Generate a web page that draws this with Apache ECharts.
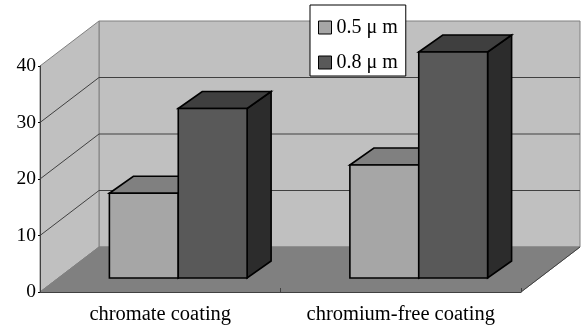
<!DOCTYPE html>
<html>
<head>
<meta charset="utf-8">
<script src="https://cdn.jsdelivr.net/npm/echarts@6/dist/echarts.min.js"></script>
<style>html,body{margin:0;padding:0;background:#fff;}#c{width:581px;height:329px;}</style>
</head>
<body>
<div id="c"></div>
<script>
const categories = ['chromate coating', 'chromium-free coating'];
const seriesNames = ['0.5 μ m', '0.8 μ m'];
const values05 = [15, 20];
const values08 = [30, 40];
const yTicks = [0, 10, 20, 30, 40];

const FONT = 'Liberation Serif';
const WALL_DX = 59, WALL_DY = -45;
const BAR_FRONT_DX = 18, BAR_FRONT_DY = -14;
const BAR_DX = 24, BAR_DY = -17;
const BAR_W_FRAC = 69 / 241;
const yMax = yTicks[yTicks.length - 1];

function frame(api) {
  const band = api.size([1, 0])[0];
  const c0 = api.coord([0, 0]);
  const c1 = api.coord([categories.length - 1, 0]);
  const xL = c0[0] - band / 2, xR = c1[0] + band / 2;
  const y0 = c0[1], yT = api.coord([0, yMax])[1];
  return { band, xL, xR, y0, yT };
}

function wallsRender(params, api) {
  const f = frame(api);
  const D = [WALL_DX, WALL_DY];
  return {
    type: 'group',
    children: [
      { type: 'polygon', shape: { points: [[f.xL + D[0], f.yT + D[1]], [f.xR + D[0], f.yT + D[1]], [f.xR + D[0], f.y0 + D[1]], [f.xL + D[0], f.y0 + D[1]]] },
        style: { fill: '#c0c0c0', stroke: '#808080', lineWidth: 1 } },
      { type: 'polygon', shape: { points: [[f.xL, f.y0], [f.xL, f.yT], [f.xL + D[0], f.yT + D[1]], [f.xL + D[0], f.y0 + D[1]]] },
        style: { fill: '#c0c0c0', stroke: '#808080', lineWidth: 1 } },
      { type: 'polygon', shape: { points: [[f.xL, f.y0], [f.xR, f.y0], [f.xR + D[0], f.y0 + D[1]], [f.xL + D[0], f.y0 + D[1]]] },
        style: { fill: '#808080', stroke: '#808080', lineWidth: 1 } },
      { type: 'line', shape: { x1: f.xR, y1: f.y0, x2: f.xR + D[0], y2: f.y0 + D[1] },
        style: { stroke: '#404040', lineWidth: 1 } }
    ]
  };
}

function gridRender(params, api) {
  const f = frame(api);
  const y = api.coord([0, api.value(1)])[1];
  return {
    type: 'polyline',
    shape: { points: [[f.xL, y], [f.xL + WALL_DX, y + WALL_DY], [f.xR + WALL_DX, y + WALL_DY]] },
    style: { stroke: '#404040', lineWidth: 1, fill: null }
  };
}

function barRender(side, cFront, cTop, cSide) {
  return function (params, api) {
    const c = api.value(0), v = api.value(1);
    const base = api.coord([c, 0]);
    const tp = api.coord([c, v]);
    const band = api.size([1, 0])[0];
    const bw = band * BAR_W_FRAC;
    const x0 = base[0] + BAR_FRONT_DX + (side === 0 ? -bw : 0);
    const x1 = x0 + bw;
    const yb = base[1] + BAR_FRONT_DY;
    const yt = tp[1] + BAR_FRONT_DY;
    const st = { stroke: '#000', lineWidth: 1.6, lineJoin: 'miter' };
    return {
      type: 'group',
      children: [
        { type: 'polygon', shape: { points: [[x1, yt], [x1 + BAR_DX, yt + BAR_DY], [x1 + BAR_DX, yb + BAR_DY], [x1, yb]] },
          style: Object.assign({ fill: cSide }, st) },
        { type: 'polygon', shape: { points: [[x0, yt], [x0 + BAR_DX, yt + BAR_DY], [x1 + BAR_DX, yt + BAR_DY], [x1, yt]] },
          style: Object.assign({ fill: cTop }, st) },
        { type: 'rect', shape: { x: x0, y: yt, width: bw, height: yb - yt },
          style: Object.assign({ fill: cFront }, st) }
      ]
    };
  };
}

const colors05 = ['#a6a6a6', '#808080', '#707070'];
const colors08 = ['#595959', '#3f3f3f', '#2c2c2c'];

const chart = echarts.init(document.getElementById('c'));
chart.setOption({
  animation: false,
  backgroundColor: '#fff',
  grid: { left: 40, right: 60, top: 66, bottom: 37, containLabel: false },
  legend: {
    orient: 'vertical', left: 310, top: 5,
    itemWidth: 13, itemHeight: 13, itemGap: 14,
    padding: [12, 8, 3, 8],
    borderColor: '#000', borderWidth: 1, backgroundColor: '#fff',
    textStyle: { fontFamily: FONT, fontSize: 20, color: '#000', lineHeight: 21 },
    data: [
      { name: seriesNames[0], icon: 'rect', itemStyle: { color: colors05[0], borderColor: '#000', borderWidth: 1 } },
      { name: seriesNames[1], icon: 'rect', itemStyle: { color: colors08[0], borderColor: '#000', borderWidth: 1 } }
    ]
  },
  xAxis: {
    type: 'category', data: categories, boundaryGap: true, z: 5,
    axisLine: { show: true, lineStyle: { color: '#404040', width: 1 } },
    axisTick: { show: true, inside: true, length: 4, interval: 0, lineStyle: { color: '#404040' } },
    axisLabel: { fontFamily: FONT, fontSize: 20.5, color: '#000', margin: 12, interval: 0 },
    splitLine: { show: false }
  },
  yAxis: {
    type: 'value', min: 0, max: yMax, interval: 10, z: 5,
    axisLine: { show: true, lineStyle: { color: '#404040', width: 1 } },
    axisTick: { show: true, length: 2, lineStyle: { color: '#000' } },
    axisLabel: { fontFamily: FONT, fontSize: 19.5, color: '#000', margin: 4 },
    splitLine: { show: false }
  },
  series: [
    { type: 'custom', name: 'walls', silent: true, z: 1, renderItem: wallsRender, data: [[0, 0]], encode: { x: 0, y: 1 } },
    { type: 'custom', name: 'grid', silent: true, z: 1, renderItem: gridRender,
      data: yTicks.filter(t => t > 0 && t < yMax).map(t => [0, t]), encode: { x: 0, y: 1 } },
    { type: 'custom', name: seriesNames[0], z: 2, renderItem: barRender(0, colors05[0], colors05[1], colors05[2]),
      itemStyle: { color: colors05[0] }, data: values05.map((v, i) => [i, v]), encode: { x: 0, y: 1 } },
    { type: 'custom', name: seriesNames[1], z: 2, renderItem: barRender(1, colors08[0], colors08[1], colors08[2]),
      itemStyle: { color: colors08[0] }, data: values08.map((v, i) => [i, v]), encode: { x: 0, y: 1 } }
  ]
});
</script>
</body>
</html>
